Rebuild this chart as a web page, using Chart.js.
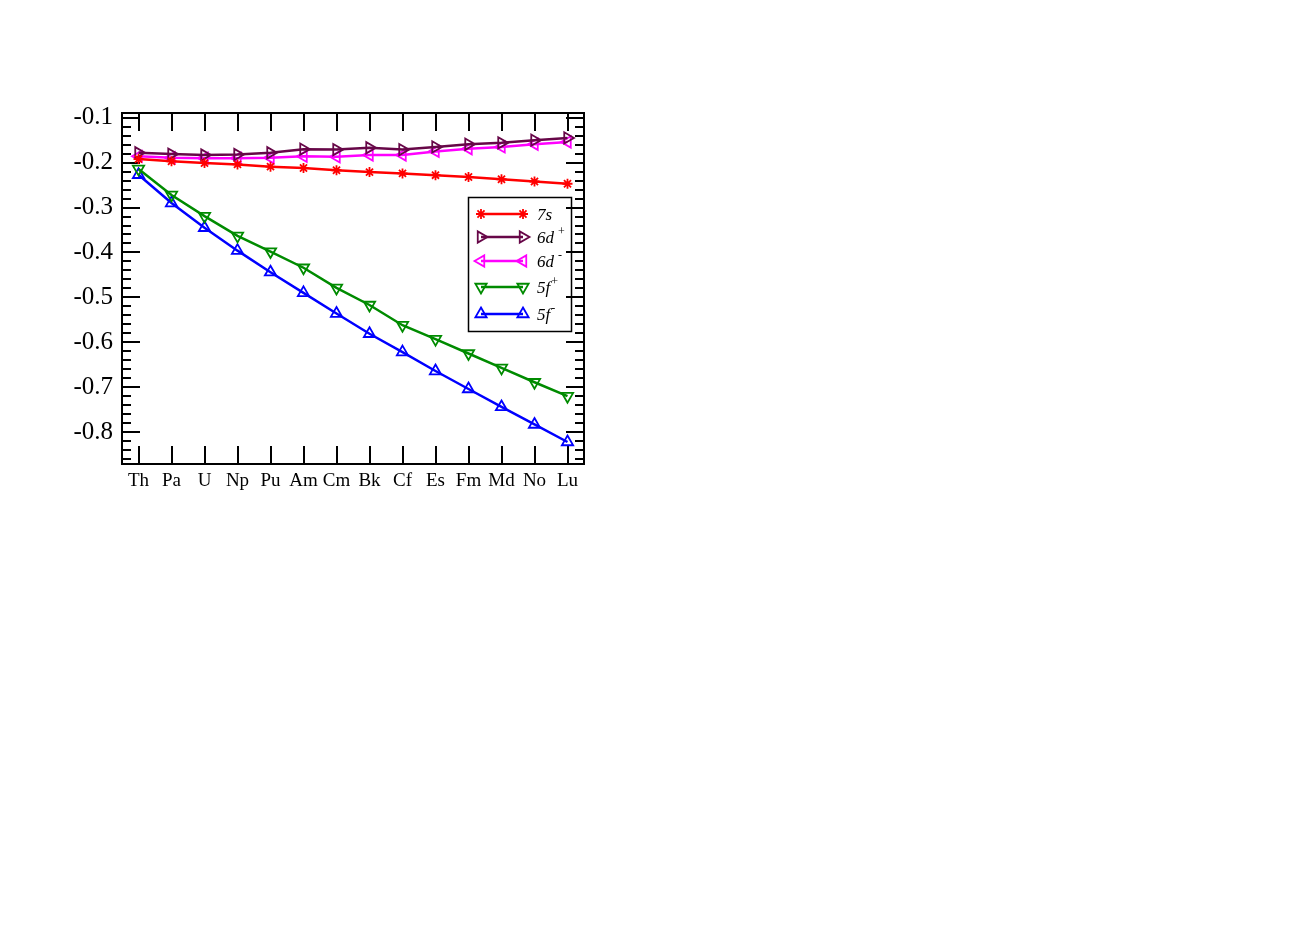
<!DOCTYPE html>
<html>
<head>
<meta charset="utf-8">
<title>Orbitais</title>
<script src="https://cdn.jsdelivr.net/npm/chart.js@4.4.0/dist/chart.umd.min.js"></script>
<style>
  html, body { margin: 0; padding: 0; background: #fff; }
  #wrap { width: 1311px; height: 926px; }
</style>
</head>
<body>
<div id="wrap"><canvas id="myChart" width="1311" height="926"></canvas></div>
<script>
// elementos no eixo x
const elementos = ['Th', 'Pa', 'U', 'Np', 'Pu', 'Am', 'Cm', 'Bk', 'Cf', 'Es', 'Fm', 'Md', 'No', 'Lu'];

// energias
const orb7s  = [-0.192, -0.197, -0.201, -0.204, -0.209, -0.212, -0.217, -0.221, -0.224, -0.228, -0.232, -0.237, -0.242, -0.247];
const orb6dP = [-0.178, -0.181, -0.183, -0.182, -0.178, -0.170, -0.171, -0.167, -0.171, -0.165, -0.159, -0.156, -0.150, -0.145];
const orb6dM = [-0.186, -0.189, -0.190, -0.190, -0.189, -0.186, -0.187, -0.183, -0.183, -0.175, -0.169, -0.165, -0.159, -0.154];
const orb5fP = [-0.214, -0.272, -0.319, -0.363, -0.398, -0.434, -0.479, -0.517, -0.562, -0.593, -0.625, -0.657, -0.689, -0.720];
const orb5fM = [-0.227, -0.290, -0.345, -0.396, -0.444, -0.490, -0.536, -0.581, -0.622, -0.664, -0.704, -0.744, -0.783, -0.822];

// legenda
const nomes = ['7s', '6d', '6d', '5f', '5f'];
const sobrescritos = ['', '+', '-', '+', '-'];

const yMin = -0.871;
const yMax = -0.0895;

Chart.defaults.color = '#000';
Chart.defaults.font.family = '"Liberation Serif", "Times New Roman", serif';

function serie(label, dados, cor, estilo, rot, raio) {
  return {
    label: label,
    data: dados,
    borderColor: cor,
    backgroundColor: cor,
    borderWidth: 2.5,
    pointStyle: estilo,
    pointRotation: rot,
    pointRadius: raio,
    pointHoverRadius: raio,
    pointBorderColor: cor,
    pointBackgroundColor: 'rgba(0,0,0,0)',
    pointBorderWidth: 1.8,
    tension: 0
  };
}

const data1 = {
  labels: elementos,
  datasets: [
    serie('7s', orb7s, 'rgb(255, 0, 0)', 'star', 0, 5),
    serie('6d+', orb6dP, 'rgb(103, 7, 72)', 'triangle', 90, 6.5),
    serie('6d-', orb6dM, 'rgb(255, 0, 255)', 'triangle', 270, 6.5),
    serie('5f+', orb5fP, 'rgb(0, 139, 0)', 'triangle', 180, 6.5),
    serie('5f-', orb5fM, 'rgb(0, 0, 255)', 'triangle', 0, 6.5)
  ]
};

// desenha marcador igual ao do grafico (para a legenda)
function marcador(ctx, ds, x, y) {
  const r = ds.pointRadius;
  ctx.save();
  ctx.strokeStyle = ds.borderColor;
  ctx.lineWidth = ds.pointBorderWidth;
  ctx.beginPath();
  if (ds.pointStyle === 'star') {
    ctx.moveTo(x - r, y); ctx.lineTo(x + r, y);
    ctx.moveTo(x, y - r); ctx.lineTo(x, y + r);
    const d = Math.cos(Math.PI / 4) * r;
    ctx.moveTo(x - d, y - d); ctx.lineTo(x + d, y + d);
    ctx.moveTo(x + d, y - d); ctx.lineTo(x - d, y + d);
  } else {
    let rad = ds.pointRotation * Math.PI / 180;
    ctx.moveTo(x + Math.sin(rad) * r, y - Math.cos(rad) * r);
    rad += 2 * Math.PI / 3;
    ctx.lineTo(x + Math.sin(rad) * r, y - Math.cos(rad) * r);
    rad += 2 * Math.PI / 3;
    ctx.lineTo(x + Math.sin(rad) * r, y - Math.cos(rad) * r);
    ctx.closePath();
  }
  ctx.stroke();
  ctx.restore();
}

const linhasLegenda = [214, 237, 261, 287, 314];

const legendaCaixa = {
  id: 'legendaCaixa',
  afterDraw(chart) {
    const ctx = chart.ctx;
    ctx.save();
    ctx.lineWidth = 1.5;
    ctx.strokeStyle = '#000';
    ctx.strokeRect(468.5, 197.5, 103, 134);
    chart.data.datasets.forEach(function (ds, i) {
      const y = linhasLegenda[i];
      ctx.strokeStyle = ds.borderColor;
      ctx.lineWidth = ds.borderWidth;
      ctx.beginPath();
      ctx.moveTo(481, y);
      ctx.lineTo(523, y);
      ctx.stroke();
      marcador(ctx, ds, 481, y);
      marcador(ctx, ds, 523, y);

      ctx.fillStyle = '#000';
      ctx.textBaseline = 'alphabetic';
      ctx.textAlign = 'left';
      ctx.font = 'italic 17px "Liberation Serif"';
      ctx.fillText(nomes[i], 537, y + 6);
      const w = ctx.measureText(nomes[i]).width;
      if (sobrescritos[i]) {
        ctx.font = '12px "Liberation Serif"';
        const dx = nomes[i] === '6d' ? 4 : 1;
        ctx.fillText(sobrescritos[i], 537 + w + dx, y - 2);
      }
    });
    ctx.restore();
  }
};

function largura(w) {
  return function (scale) { scale.width = w; };
}
function altura(h) {
  return function (scale) { scale.height = h; };
}

const eixoY = function (extra) {
  return Object.assign({
    type: 'linear',
    min: yMin,
    max: yMax,
    grid: { drawOnChartArea: false, color: '#000', lineWidth: 2 },
    border: { display: false }
  }, extra);
};

const config = {
  type: 'line',
  data: data1,
  plugins: [legendaCaixa],
  options: {
    responsive: false,
    animation: false,
    devicePixelRatio: 1,
    layout: { padding: { left: 0, top: 113, right: 727, bottom: 422 } },
    plugins: { legend: { display: false }, tooltip: { enabled: false } },
    scales: {
      x: {
        type: 'category',
        position: 'bottom',
        offset: true,
        grid: { drawOnChartArea: false, offset: false, color: '#000', lineWidth: 2, tickLength: -18 },
        border: { display: true, color: '#000', width: 2 },
        ticks: { font: { size: 19 }, padding: 24, maxRotation: 0, autoSkip: false },
        afterFit: altura(40)
      },
      xTop: {
        type: 'category',
        position: 'top',
        offset: true,
        grid: { drawOnChartArea: false, offset: false, color: '#000', lineWidth: 2, tickLength: -18 },
        border: { display: true, color: '#000', width: 2 },
        ticks: { display: false },
        afterFit: altura(0)
      },
      y: eixoY({
        position: 'left',
        weight: 1,
        grid: { drawOnChartArea: false, color: '#000', lineWidth: 2, tickLength: -18 },
        border: { display: true, color: '#000', width: 2 },
        ticks: {
          stepSize: 0.1, includeBounds: false, autoSkip: false, padding: 27,
          font: { size: 25 },
          callback: function (v) { return v.toFixed(1); }
        },
        afterFit: largura(122)
      }),
      yMenor: eixoY({
        position: 'left',
        weight: 0,
        grid: { drawOnChartArea: false, color: '#000', lineWidth: 2, tickLength: -9 },
        ticks: { display: false, stepSize: 0.02, includeBounds: false, autoSkip: false },
        afterFit: largura(0)
      }),
      yDir: eixoY({
        position: 'right',
        grid: { drawOnChartArea: false, color: '#000', lineWidth: 2, tickLength: -18 },
        border: { display: true, color: '#000', width: 2 },
        ticks: { display: false, stepSize: 0.1, includeBounds: false, autoSkip: false },
        afterFit: largura(0)
      }),
      yDirMenor: eixoY({
        position: 'right',
        grid: { drawOnChartArea: false, color: '#000', lineWidth: 2, tickLength: -9 },
        ticks: { display: false, stepSize: 0.02, includeBounds: false, autoSkip: false },
        afterFit: largura(0)
      })
    }
  }
};

const myChart = new Chart(document.getElementById('myChart'), config);
</script>
</body>
</html>
